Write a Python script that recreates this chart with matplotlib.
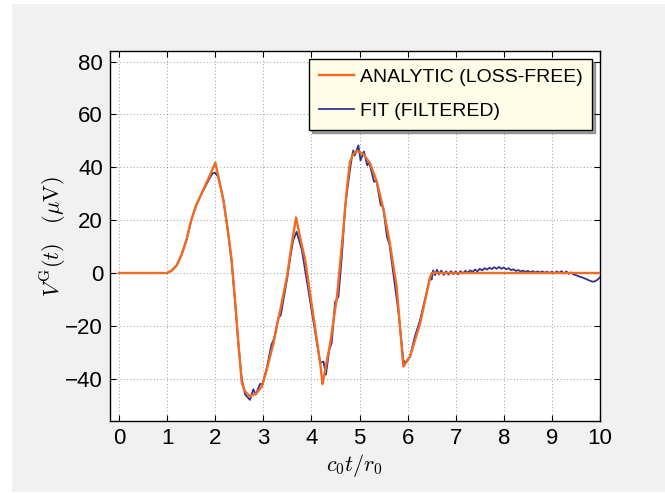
import matplotlib
matplotlib.use("Agg")
import matplotlib.pyplot as plt
from matplotlib.patches import Rectangle

plt.rcParams['font.family'] = ['Liberation Sans', 'DejaVu Sans']
plt.rcParams['mathtext.fontset'] = 'cm'

# --- analytic (loss-free) curve ---
t_analytic = [0.0, 1.0, 1.1, 1.2, 1.3, 1.4, 1.5, 1.6, 1.7, 1.8, 1.9, 2.0,
              2.17, 2.27, 2.34, 2.41, 2.48, 2.55, 2.62, 2.72, 2.86, 2.97,
              3.07, 3.21, 3.35, 3.49, 3.59, 3.68, 3.76, 3.87, 3.97, 4.07,
              4.18, 4.23, 4.25, 4.39, 4.53, 4.66, 4.73, 4.8, 4.87, 4.955,
              5.08, 5.22, 5.36, 5.5, 5.63, 5.77, 5.91, 6.05, 6.26, 6.47,
              6.5, 10.0]
v_analytic = [0.0, 0.0, 1.0, 3.0, 7.0, 12.5, 20.0, 25.5, 29.5, 33.5, 37.5, 41.8,
              27.5, 15.0, 4.9, -10.0, -26.5, -41.6, -44.8, -46.7, -45.4, -42.9,
              -36.6, -26.5, -14.0, -1.4, 11.2, 21.0, 13.7, 4.9, -7.7, -20.0,
              -34.0, -42.0, -40.0, -26.5, -9.0, 16.0, 31.0, 42.0, 45.0, 46.2,
              45.0, 41.4, 34.5, 23.8, 11.2, -5.0, -35.4, -31.6, -19.0, -1.4,
              0.0, 0.0]

# --- fitted (filtered) curve ---
t_fit = [0.0, 1.0, 1.1, 1.2, 1.3, 1.4, 1.5, 1.6, 1.7, 1.8, 1.9, 1.95, 2.0,
         2.06, 2.17, 2.27, 2.34, 2.41, 2.48, 2.55, 2.62, 2.72, 2.79, 2.84,
         2.93, 2.98, 3.07, 3.17, 3.22, 3.31, 3.36, 3.49, 3.56, 3.62, 3.69,
         3.8, 3.9, 4.0, 4.11, 4.18, 4.25, 4.3, 4.37, 4.42, 4.49, 4.56, 4.63,
         4.7, 4.77, 4.84, 4.87, 4.9, 4.975, 5.02, 5.09, 5.16, 5.2, 5.3, 5.35,
         5.44, 5.49, 5.57, 5.62, 5.7, 5.81, 5.91, 5.95, 6.05, 6.15, 6.26,
         6.36, 6.47, 6.5, 6.53, 6.57, 6.61, 6.65, 6.7, 6.75, 6.8, 6.85, 6.9,
         6.95, 7.0, 7.05, 7.1, 7.15, 7.2, 7.25, 7.3, 7.35, 7.4, 7.45, 7.5,
         7.55, 7.6, 7.65, 7.7, 7.75, 7.8, 7.85, 7.9, 7.95, 8.0, 8.05, 8.1,
         8.15, 8.2, 8.25, 8.3, 8.35, 8.4, 8.45, 8.5, 8.55, 8.6, 8.65, 8.7,
         8.75, 8.8, 8.85, 8.9, 8.95, 9.0, 9.05, 9.1, 9.15, 9.2, 9.25, 9.3,
         9.35, 9.4, 9.45, 9.5, 9.55, 9.6, 9.65, 9.7, 9.75, 9.8, 9.85, 9.9,
         9.95, 10.0]
v_fit = [0.0, 0.0, 1.0, 3.0, 7.0, 12.5, 20.0, 25.5, 29.5, 33.0, 36.5, 37.8, 37.9,
         36.3, 27.5, 14.5, 4.0, -11.0, -27.0, -40.0, -46.0, -48.0, -44.0, -46.0,
         -42.0, -42.0, -36.0, -27.0, -25.0, -17.0, -16.0, -2.6, 6.0, 12.4, 15.6,
         8.7, -2.6, -14.0, -26.5, -34.0, -33.5, -38.5, -29.0, -26.5, -11.0, -9.0, 6.0,
         25.0, 35.0, 44.0, 46.4, 44.5, 48.3, 42.6, 46.0, 40.7, 42.0, 34.5, 35.0,
         25.7, 25.0, 13.7, 11.0, 0.0, -15.0, -33.0, -34.0, -31.6, -24.0, -17.7,
         -10.0, -1.4, -2.5, 1.0, -0.8, 1.2, -0.5, 0.9, -0.7, 0.6, -0.6, 0.7,
         -0.4, 0.6, -0.5, 0.7, -0.2, 0.8, 0.1, 1.0, 0.4, 1.3, 0.6, 1.6,
         1.0, 1.8, 1.3, 2.0, 1.5, 2.2, 1.6, 2.3, 1.6, 2.1, 1.4, 1.8,
         1.1, 1.4, 0.8, 1.1, 0.6, 0.9, 0.4, 0.8, 0.3, 0.7, 0.2, 0.6,
         0.2, 0.6, 0.1, 0.5, 0.0, 0.5, -0.1, 0.6, 0.0, 0.7, -0.2, 0.6,
         -0.3, 0.2, -0.6, -0.8, -1.2, -1.5, -1.8, -2.2, -2.6, -3.0, -3.3, -3.1,
         -2.5, -1.6]

x_ticks = list(range(0, 11))
y_ticks = [-40, -20, 0, 20, 40, 60, 80]

fig = plt.figure(figsize=(6.65, 4.93), dpi=100)
fig.patch.set_facecolor("white")
# grey panel behind everything
fig.patches.append(Rectangle((12 / 665, 1 / 493), 1 - 12 / 665, 488 / 493,
                             transform=fig.transFigure, facecolor="#f0f1f0",
                             edgecolor="none", zorder=-10))

ax = fig.add_axes([110 / 665, 72 / 493, 490 / 665, 370 / 493])
ax.set_facecolor("white")

l_fit, = ax.plot(t_fit, v_fit, color="#33338f", lw=1.3, zorder=3)
l_ana, = ax.plot(t_analytic, v_analytic, color="#f26b21", lw=1.7, zorder=4)

ax.set_xlim(-0.19, 10)
ax.set_ylim(-56, 84)
ax.set_xticks(x_ticks)
ax.set_yticks(y_ticks)
ax.set_yticklabels([str(v).replace("-", "\u2212") for v in y_ticks])
ax.tick_params(direction="in", top=True, right=True, length=4, width=0.8,
               labelsize=16, pad=5)
ax.grid(True, linestyle=(0, (1, 3)), color="#444444", lw=0.6, alpha=0.7)
for s in ax.spines.values():
    s.set_linewidth(1.0)

ax.set_xlabel(r"$c_0t/r_0$", fontsize=16, labelpad=2)
ax.set_ylabel(r"$V^{\mathrm{G}}(t)\quad(\mu\mathrm{V})$", fontsize=16, labelpad=-3)

leg = ax.legend([l_ana, l_fit], ["ANALYTIC (LOSS-FREE)", "FIT (FILTERED)"],
                loc="upper right", fontsize=14, fancybox=False, shadow=True,
                framealpha=1, facecolor="#fffde8", edgecolor="black",
                handlelength=1.8, handletextpad=0.3, labelspacing=0.85,
                borderpad=0.5, borderaxespad=0.4)
leg.get_frame().set_linewidth(1.0)

fig.savefig("out.png", dpi=100)
